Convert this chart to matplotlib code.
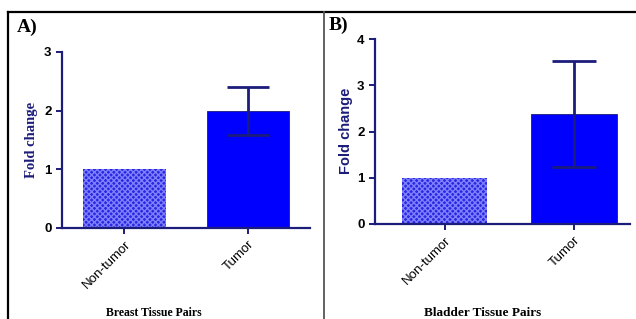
import numpy as np
import matplotlib.pyplot as plt
from matplotlib.lines import Line2D

categories = ['Non-tumor', 'Tumor']

breast_fold = [1.0, 1.99]
breast_err = [0.0, 0.41]

bladder_fold = [1.0, 2.38]
bladder_err = [0.0, 1.14]

navy = '#1c1c7a'
W, H = 636, 319

fig = plt.figure(figsize=(W / 100, H / 100), dpi=100)


def px_axes(x0, x1, y_top, y_bot):
    return fig.add_axes([x0 / W, 1 - y_bot / H, (x1 - x0) / W, (y_bot - y_top) / H])


def draw_panel(ax, vals, errs, width, xlim, ymax, capsize):
    x = np.arange(len(categories))
    ax.bar(x[0], vals[0], width, color='#2828e0', edgecolor='#8080ff',
           hatch='xxxxxx', linewidth=0, zorder=2)
    ax.bar(x[1], vals[1], width, color='#0000ff', edgecolor=navy,
           linewidth=0.6, zorder=2)
    ax.errorbar(x[1], vals[1], yerr=errs[1], color=navy, lw=2,
                capsize=capsize, capthick=2, zorder=3)
    ax.set_xlim(*xlim)
    ax.set_ylim(0, ymax)
    ax.set_yticks(range(ymax + 1))
    ax.set_xticks(x)
    ax.set_xticklabels(categories, rotation=45, ha='right', rotation_mode='anchor',
                       fontsize=9.5, family='Liberation Sans')
    for lab in ax.get_yticklabels():
        lab.set_fontweight('bold')
        lab.set_family('Liberation Sans')
        lab.set_fontsize(9.5)
    for s in ['top', 'right']:
        ax.spines[s].set_visible(False)
    for s in ['left', 'bottom']:
        ax.spines[s].set_color(navy)
        ax.spines[s].set_linewidth(1.6)
    ax.tick_params(colors=navy, labelcolor='black', width=1.4, length=4)


# panel A
axA = px_axes(62, 310, 52, 228)
draw_panel(axA, breast_fold, breast_err, 0.67, (-0.506, 1.502), 3, 14.8)
fig.text(32 / W, 1 - 140 / H, 'Fold change', rotation=90, ha='center', va='center',
         color=navy, fontsize=10.5, fontweight='bold', family='Liberation Serif')
fig.text(154 / W, 1 - 313 / H, 'Breast Tissue Pairs', ha='center', va='center',
         fontsize=8.5, fontweight='bold', family='Liberation Serif')
fig.text(17 / W, 1 - 27 / H, 'A)', ha='left', va='center',
         fontsize=14, fontweight='bold', family='Liberation Serif')

# panel B
axB = px_axes(375, 630, 39, 224)
draw_panel(axB, bladder_fold, bladder_err, 0.66, (-0.537, 1.43), 4, 15.5)
fig.text(346 / W, 1 - 131 / H, 'Fold change', rotation=90, ha='center', va='center',
         color=navy, fontsize=10.5, fontweight='bold', family='Liberation Sans')
fig.text(483 / W, 1 - 313 / H, 'Bladder Tissue Pairs', ha='center', va='center',
         fontsize=9.5, fontweight='bold', family='Liberation Serif')
fig.text(329 / W, 1 - 25 / H, 'B)', ha='left', va='center',
         fontsize=14, fontweight='bold', family='Liberation Serif')

# frame lines
fig.add_artist(Line2D([8 / W, 1], [1 - 12 / H, 1 - 12 / H], color='black', lw=1.6))
fig.add_artist(Line2D([8 / W, 8 / W], [0, 1 - 12 / H], color='black', lw=1.6))
fig.add_artist(Line2D([324 / W, 324 / W], [0, 1 - 12 / H], color='#555555', lw=1.3))

fig.savefig('out.png', dpi=100)
